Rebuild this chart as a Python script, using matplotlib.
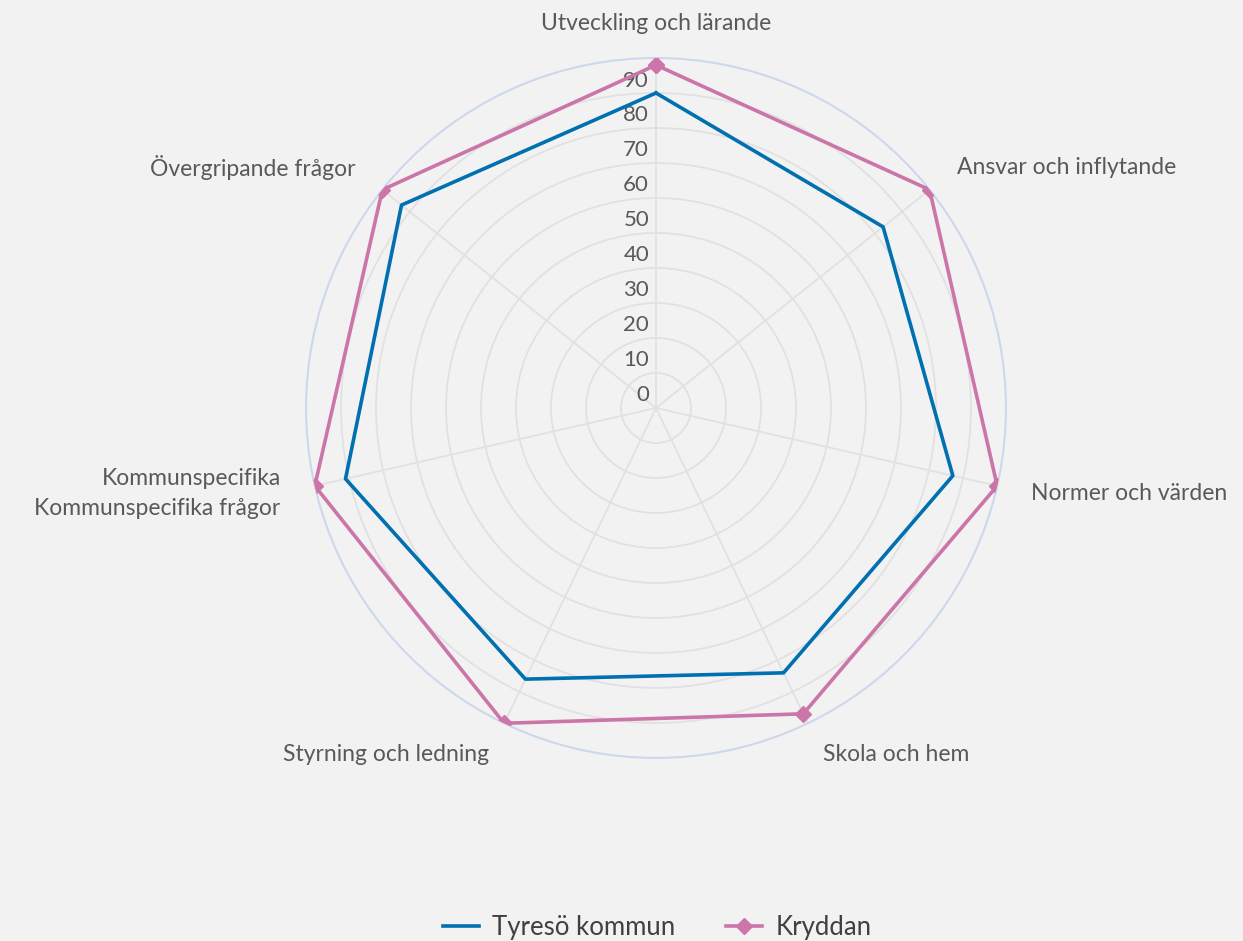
import numpy as np
import matplotlib.pyplot as plt
from matplotlib.lines import Line2D

# Data
categories = ["Utveckling och lärande", "Ansvar och inflytande", "Normer och värden",
              "Skola och hem", "Styrning och ledning",
              "Kommunspecifika\nKommunspecifika frågor", "Övergripande frågor"]
tyreso = [90, 83, 87, 84, 86, 91, 93]
kryddan = [98, 100, 100, 97, 100, 100, 100]
ticks = [0, 10, 20, 30, 40, 50, 60, 70, 80, 90]

plt.rcParams['font.family'] = ['Lato', 'DejaVu Sans']
bg = '#f2f2f2'
txt = '#595959'
blue = '#0070b0'
pink = '#cc75a8'

fig = plt.figure(figsize=(12.43, 9.41), dpi=100, facecolor=bg)
ax = fig.add_axes([0.2462, 0.1945, 0.5631, 0.7439], projection='polar')
ax.set_facecolor(bg)
ax.set_theta_zero_location('N')
ax.set_theta_direction(-1)
ax.set_ylim(0, 100)

n = len(categories)
angles = np.arange(n) * 2 * np.pi / n
ang_c = np.append(angles, angles[0])

# grid
ax.set_xticks(angles)
ax.set_xticklabels([])
ax.set_yticks(ticks[1:])
ax.set_yticklabels([])
ax.grid(True, color='#e1e1e1', linewidth=1.3)
ax.spines['polar'].set_color('#cdd8ec')
ax.spines['polar'].set_linewidth(1.5)
ax.tick_params(length=0)

# radial labels
for t in ticks:
    ax.annotate(str(t), xy=(0, t), xytext=(-5, 9), textcoords='offset points',
                ha='right', va='center', fontsize=16, color=txt)

# series
ax.plot(ang_c, np.append(tyreso, tyreso[0]), color=blue, linewidth=2.6, zorder=3)
ax.plot(ang_c, np.append(kryddan, kryddan[0]), color=pink, linewidth=2.6,
        marker='D', markersize=8.5, zorder=4)

# category labels
has = ['center', 'left', 'left', 'left', 'right', 'right', 'right']
for a, lab, h in zip(angles, categories, has):
    ax.text(a, 110, lab, ha=h, va='center', fontsize=16.5, color=txt,
            clip_on=False, multialignment='right', linespacing=1.55)

# legend, centred under the plot
handles = [Line2D([], [], color=blue, linewidth=2.6),
           Line2D([], [], color=pink, linewidth=2.6, marker='D', markersize=8.5)]
fig.legend(handles, ["Tyresö kommun", "Kryddan"], loc='center',
           bbox_to_anchor=(0.5286, 0.014), ncol=2, frameon=False, fontsize=18.5,
           labelcolor='#404040', handlelength=1.4, handletextpad=0.5,
           columnspacing=2.0)

fig.savefig("out.png", dpi=100, facecolor=bg)
